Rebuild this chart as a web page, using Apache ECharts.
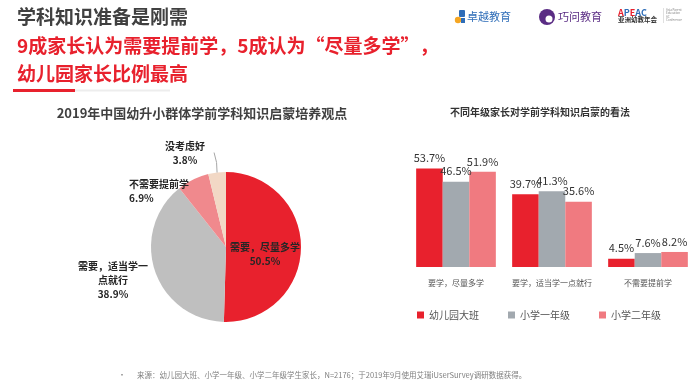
<!DOCTYPE html>
<html><head><meta charset="utf-8">
<script src="https://cdn.jsdelivr.net/npm/echarts@6/dist/echarts.min.js"></script>
<style>html,body{margin:0;padding:0;background:#fff}#c{width:700px;height:389px}</style>
</head><body><div id="c"></div>
<script>
// ---- data ----
const pieNames = ['需要，尽量多学', '需要，适当学一点就行', '不需要提前学', '没考虑好'];
const pieLabelNames = ['需要，尽量多学', '需要，适当学一\n点就行', '不需要提前学', '没考虑好'];
const pieValues = [50.5, 38.9, 6.9, 3.8];
const barCategories = ['要学，尽量多学', '要学，适当学一点就行', '不需要提前学'];
const seriesNames = ['幼儿园大班', '小学一年级', '小学二年级'];
const kindergarten = [53.7, 39.7, 4.5];
const grade1 = [46.5, 41.3, 7.6];
const grade2 = [51.9, 35.6, 8.2];

const FONT = '"Noto Sans CJK SC", "Noto Sans", sans-serif';
const pieColors = ['#E8212D', '#BFBFBF', '#F0898D', '#F2D8C5'];
const barColors = ['#E8212D', '#A2A9AF', '#F07A80'];
const PIE_C = [226, 247], PIE_R = 75;
// label anchor positions for pie labels (layout only)
const pieLabelPos = [
  {x: 265, y: 254, align: 'center'},
  {x: 113, y: 280, align: 'center'},
  {x: 129, y: 191, align: 'left'},
  {x: 185, y: 153, align: 'center'}
];

const chart = echarts.init(document.getElementById('c'), null, {renderer: 'canvas'});
const barSeriesData = [kindergarten, grade1, grade2];
const pieTotal = pieValues.reduce((a, b) => a + b, 0);

function sliceEdgePoint(idx) {
  let before = 0;
  for (let i = 0; i < idx; i++) before += pieValues[i];
  const mid = (before + pieValues[idx] / 2) / pieTotal * Math.PI * 2;
  return [PIE_C[0] + PIE_R * Math.sin(mid), PIE_C[1] - PIE_R * Math.cos(mid)];
}
const e3 = sliceEdgePoint(3);

const option = {
  animation: false,
  textStyle: {fontFamily: FONT},
  title: [
    {text: '2019年中国幼升小群体学前学科知识启蒙培养观点', left: 197, top: 102, textAlign: 'center',
     textStyle: {fontSize: 13, fontWeight: 'bold', color: '#404040', fontFamily: FONT}},
    {text: '不同年级家长对学前学科知识启蒙的看法', left: 535, top: 102, textAlign: 'center',
     textStyle: {fontSize: 10, fontWeight: 'bold', color: '#333', fontFamily: FONT}}
  ],
  legend: {
    data: seriesNames, left: 412, top: 305, icon: 'rect', itemWidth: 7, itemHeight: 7, itemGap: 29,
    textStyle: {fontSize: 10, color: '#555', fontFamily: FONT}
  },
  grid: {left: 408, right: 4, top: 157, bottom: 122},
  xAxis: {
    type: 'category', data: barCategories,
    axisLine: {show: false}, axisTick: {show: false},
    axisLabel: {interval: 0, fontSize: 8, color: '#555', margin: 12, fontFamily: FONT}
  },
  yAxis: {type: 'value', min: 0, max: 60, show: false, splitLine: {show: false}},
  series: [
    {
      type: 'pie', center: PIE_C, radius: PIE_R, startAngle: 90, clockwise: true,
      data: pieNames.map((n, i) => ({
        name: n, value: pieValues[i], itemStyle: {color: pieColors[i]},
        label: i === 0 ? {position: 'inside'} : {}
      })),
      labelLine: {show: false},
      label: {
        show: true, position: 'outside', fontSize: 10, fontWeight: 'bold', color: '#262626',
        lineHeight: 14, fontFamily: FONT,
        formatter: p => pieLabelNames[p.dataIndex] + '\n' + p.value + '%'
      },
      labelLayout: p => {
        const q = pieLabelPos[p.dataIndex];
        return {x: q.x, y: q.y, align: q.align, verticalAlign: 'middle'};
      },
      emphasis: {disabled: true}
    },
    ...seriesNames.map((n, i) => ({
      type: 'bar', name: n, data: barSeriesData[i], barGap: '0%', barCategoryGap: '17%',
      itemStyle: {color: barColors[i]},
      label: {show: true, position: 'top', distance: 5, fontSize: 11, color: '#333', fontFamily: FONT,
              formatter: p => p.value.toFixed(1) + '%'},
      emphasis: {disabled: true}
    }))
  ],
  graphic: [
    {type: 'polyline', shape: {points: [e3, [e3[0] - 0.5, e3[1] - 10], [e3[0] - 3, e3[1] - 20]]},
     style: {stroke: '#A6A6A6', lineWidth: 1, fill: null}, z: 10},
    {type: 'text', left: 17, top: 7, style: {text: '学科知识准备是刚需', font: 'bold 19px ' + FONT, fill: '#404040'}},
    {type: 'text', left: 17, top: 36, style: {text: '9成家长认为需要提前学，5成认为“尽量多学”，', font: 'bold 19px ' + FONT, fill: '#E8212D'}},
    {type: 'text', left: 17, top: 64, style: {text: '幼儿园家长比例最高', font: 'bold 19px ' + FONT, fill: '#E8212D'}},
    {type: 'rect', shape: {x: 75, y: 89.5, width: 95, height: 2}, style: {fill: '#EDEDED'}},
    {type: 'rect', shape: {x: 13, y: 89, width: 62, height: 3}, style: {fill: '#E8212D'}},
    // logos
    {type: 'rect', shape: {x: 459, y: 10, width: 6, height: 7, r: 1}, style: {fill: '#2E6DB8'}},
    {type: 'circle', shape: {cx: 458, cy: 20, r: 3.2}, style: {fill: '#F5A623'}},
    {type: 'rect', shape: {x: 461, y: 18, width: 4, height: 5}, style: {fill: '#2E6DB8'}},
    {type: 'text', x: 467, y: 17, style: {text: '卓越教育', font: '11px ' + FONT, fill: '#2E6DB8', verticalAlign: 'middle'}},
    {type: 'circle', shape: {cx: 547, cy: 17, r: 8}, style: {fill: '#5A2C84'}},
    {type: 'circle', shape: {cx: 549, cy: 19, r: 3.5}, style: {fill: '#fff'}},
    {type: 'text', x: 558, y: 17, style: {text: '巧问教育', font: '11px ' + FONT, fill: '#5A2C84', verticalAlign: 'middle'}},
    {type: 'text', x: 618, y: 13, style: {
      text: '{r|A}{b|P}{r|E}{b|A}{b|C}', verticalAlign: 'middle',
      rich: {r: {fontSize: 9, fontWeight: 'bold', fill: '#E8212D', color: '#E8212D', fontFamily: FONT},
             b: {fontSize: 9, fontWeight: 'bold', fill: '#2E6DB8', color: '#2E6DB8', fontFamily: FONT}}}},
    {type: 'text', x: 618, y: 20, style: {text: '亚洲幼教年会', font: 'bold 6.5px ' + FONT, fill: '#333', verticalAlign: 'middle'}},
    {type: 'rect', shape: {x: 663, y: 8, width: 0.6, height: 15}, style: {fill: '#ccc'}},
    {type: 'text', x: 666, y: 15, style: {text: 'Asia Parent\nEducation\nAC\nConference', font: '3px ' + FONT, fill: '#888', verticalAlign: 'middle', lineHeight: 3.5}},
    // footnote
    {type: 'text', x: 118, y: 375, style: {text: '•', font: '8px ' + FONT, fill: '#7F7F7F', verticalAlign: 'middle'}},
    {type: 'text', x: 137, y: 375, style: {text: '来源：幼儿园大班、小学一年级、小学二年级学生家长，N=2176；于2019年9月使用艾瑞iUserSurvey调研数据获得。', font: '7.5px ' + FONT, fill: '#7F7F7F', verticalAlign: 'middle'}}
  ]
};
chart.setOption(option);
</script></body></html>
